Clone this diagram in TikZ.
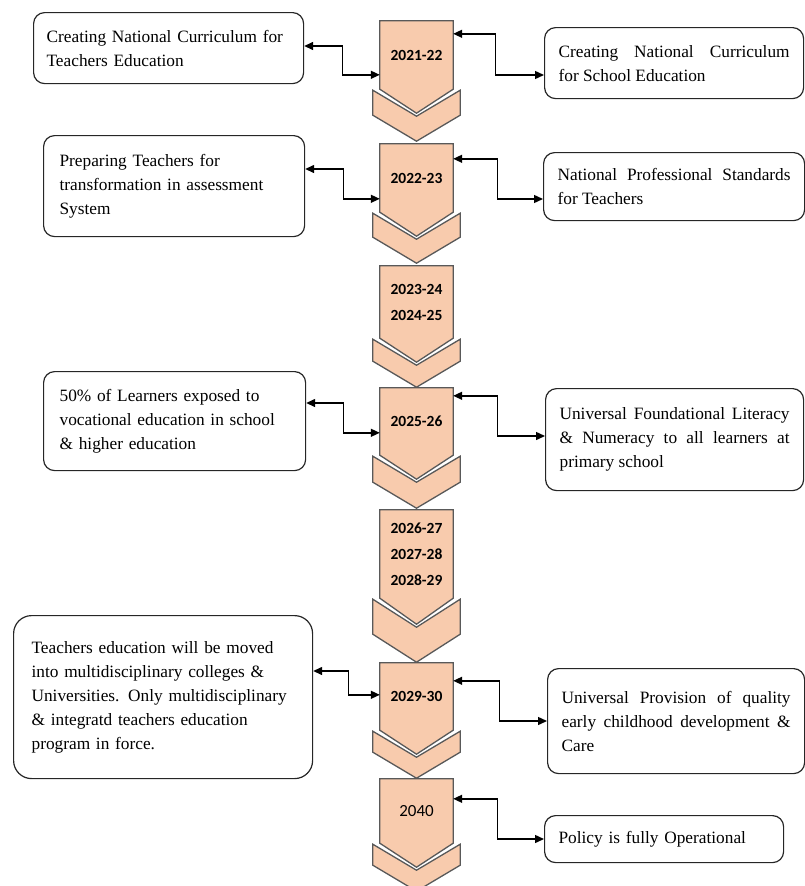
\documentclass[tikz,border=0pt]{standalone}
\usepackage{fontspec}
\setmainfont{Liberation Serif}
\newfontfamily\yearfont{Carlito}
\usepackage{tikz}
\usetikzlibrary{arrows.meta, calc, backgrounds}
\definecolor{yearpeach}{RGB}{248,203,173}
\definecolor{blockedge}{RGB}{89,89,89}

\begin{document}
\begin{tikzpicture}[
    x=1pt, y=-1pt,
    yearbox/.style={rectangle, minimum width=73pt, inner sep=0pt, align=center, font=\yearfont\bfseries\fontsize{15.5}{26}\selectfont},
    goal/.style={rectangle, draw=black!85, line width=1.2pt, rounded corners=11pt, anchor=north west, font=\fontsize{17.3}{24}\selectfont},
    lgoal/.style={goal, align=left, inner xsep=16pt},
    rgoal/.style={goal, align=justify, inner xsep=14pt},
    blockshape/.style={fill=yearpeach, draw=blockedge, line width=1.3pt},
    link/.style={<->, >={Triangle[length=9pt, width=8pt]}, line width=1.4pt}
]
\useasboundingbox (0,0) rectangle (805,886);

% year blocks down the middle
\node[yearbox, minimum height=68pt] (y1) at (416.5,55) {2021-22};
\node[yearbox, minimum height=68pt] (y2) at (416.5,178) {2022-23};
\node[yearbox, minimum height=72pt] (y3) at (416.5,302) {2023-24\\2024-25};
\node[yearbox, minimum height=67pt] (y4) at (416.5,421.5) {2025-26};
\node[yearbox, minimum height=88pt] (y5) at (416.5,554) {2026-27\\2027-28\\2028-29};
\node[yearbox, minimum height=67pt] (y6) at (416.5,696.5) {2029-30};
\node[yearbox, minimum height=64pt] (y7) at (416.5,811) {\mdseries\fontsize{17}{20}\selectfont 2040};

% left goals
\node[lgoal, inner xsep=13pt, text width=244pt, minimum height=71pt] (l1) at (33,12) {Creating National Curriculum for\\Teachers Education};
\node[lgoal, text width=229pt, minimum height=101pt] (l2) at (43,135) {Preparing Teachers for\\transformation in assessment\\System};
\node[lgoal, text width=230pt, minimum height=99pt] (l4) at (43,371) {50\% of Learners exposed to\\vocational education in school\\\& higher education};
\node[lgoal, inner xsep=18pt, text width=263pt, minimum height=163pt, rounded corners=18pt] (l6) at (13,615) {Teachers education will be moved\\into multidisciplinary colleges \&\\Universities. Only multidisciplinary\\\& integratd teachers education\\program in force.};

% right goals
\node[rgoal, text width=231pt, minimum height=71pt] (r1) at (544,27) {Creating National Curriculum\linebreak for School Education};
\node[rgoal, text width=233pt, minimum height=68pt] (r2) at (543,152) {National Professional Standards\linebreak for Teachers};
\node[rgoal, text width=230pt, minimum height=102pt] (r4) at (545,388) {Universal Foundational Literacy\linebreak \& Numeracy to all learners at\linebreak primary school};
\node[rgoal, text width=229pt, minimum height=105pt] (r6) at (547,668) {Universal Provision of quality\linebreak early childhood development \&\linebreak Care};
\node[rgoal, text width=211pt, minimum height=47pt, align=left] (r7) at (544,815) {Policy is fully Operational};

\begin{scope}[on background layer]
\foreach \b/\v/\t in {y1/24/52, y2/24/51, y3/24/49, y4/24/53, y5/26/64, y6/24/48, y7/24/48}{
  \draw[blockshape] (\b.north west) -- (\b.north east) -- (\b.south east) -- ($(\b.south)+(0,\v)$) -- (\b.south west) -- cycle;
  \draw[blockshape] ($(\b.south west)+(-7,1)$) -- ($(\b.south)+(0,\v+3)$) -- ($(\b.south east)+(7,1)$) -- ($(\b.south east)+(7,\t-\v-2)$) -- ($(\b.south)+(0,\t)$) -- ($(\b.south west)+(-7,\t-\v-2)$) -- cycle;
}
\end{scope}

\draw[link] ($(l1.north east)+(0,34)$) -- ++(38,0) |- ($(y1.north west)+(0,54)$);
\draw[link] ($(y1.north east)+(0,13)$) -- ++(42,0) |- ($(r1.north west)+(0,48)$);
\draw[link] ($(l2.north east)+(0,34)$) -- ++(38,0) |- ($(y2.north west)+(0,55)$);
\draw[link] ($(y2.north east)+(0,15)$) -- ++(44,0) |- ($(r2.north west)+(0,47)$);
\draw[link] ($(l4.north east)+(0,32)$) -- ++(37,0) |- ($(y4.north west)+(0,45)$);
\draw[link] ($(y4.north east)+(0,8)$) -- ++(44,0) |- ($(r4.north west)+(0,48)$);
\draw[link] ($(l6.north east)+(0,56)$) -- ++(35,0) |- ($(y6.north west)+(0,32)$);
\draw[link] ($(y6.north east)+(0,18)$) -- ++(46,0) |- ($(r6.north west)+(0,53)$);
\draw[link] ($(y7.north east)+(0,20)$) -- ++(44,0) |- ($(r7.north west)+(0,24)$);

\end{tikzpicture}
\end{document}
